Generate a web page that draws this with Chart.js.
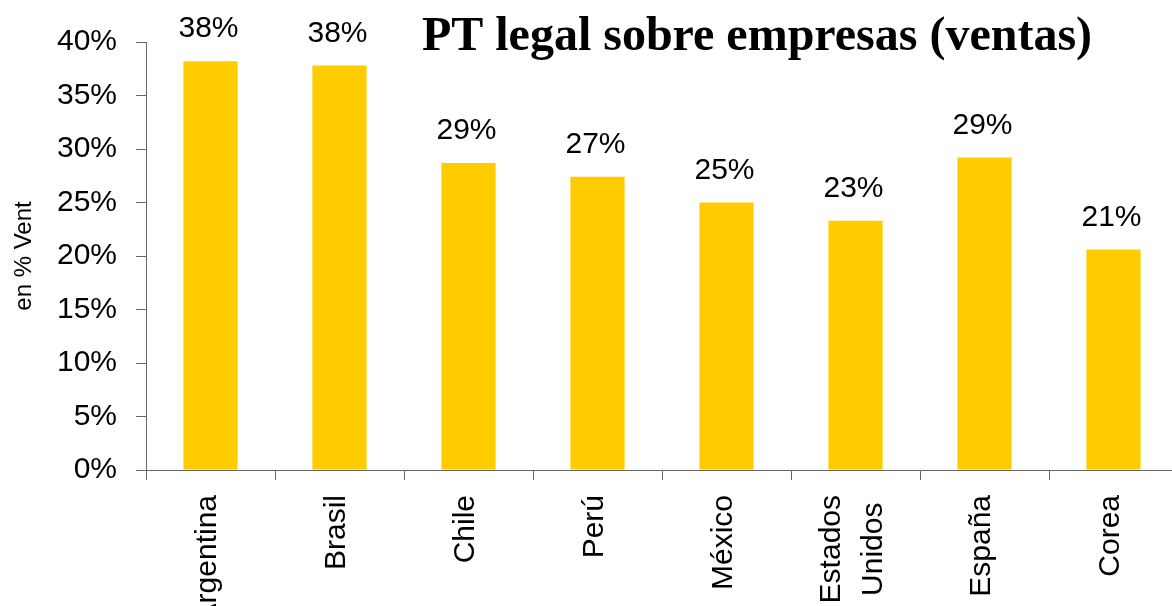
<!DOCTYPE html>
<html>
<head>
<meta charset="utf-8">
<script src="https://cdn.jsdelivr.net/npm/chart.js@4"></script>
<style>
  html, body { margin: 0; padding: 0; background: #fff; overflow: hidden; width: 1172px; height: 606px; }
  #wrap { position: absolute; left: 0; top: 0; width: 1180px; height: 640px; }
</style>
</head>
<body>
<div id="wrap"><canvas id="chart" width="1180" height="640"></canvas></div>
<script>
const SANS  = "'Liberation Sans', Arial, sans-serif";
const SERIF = "'Liberation Serif', 'Times New Roman', serif";
const AXIS  = '#666666';
const BAR   = '#FFCC00';

// ── Datos ────────────────────────────────────────────────────────────────────
const paises  = ['Argentina', 'Brasil', 'Chile', 'Perú', 'México', ['Estados', 'Unidos'], 'España', 'Corea'];
const presion = [38.2, 37.8, 28.7, 27.4, 25.0, 23.3, 29.2, 20.6];   // % de ventas
const yTicks  = { min: 0, max: 40, step: 5 };
const titulo  = 'PT legal sobre empresas (ventas)';
const yTitulo = 'en % Vent';

// ── Etiquetas de valor sobre las barras ──────────────────────────────────────
const valueLabels = {
  id: 'valueLabels',
  afterDatasetsDraw(chart) {
    const { ctx } = chart;
    const meta = chart.getDatasetMeta(0);
    ctx.save();
    ctx.font = `30px ${SANS}`;
    ctx.fillStyle = '#000';
    ctx.textAlign = 'center';
    ctx.textBaseline = 'alphabetic';
    meta.data.forEach((bar, i) => {
      ctx.fillText(Math.round(presion[i]) + '%', bar.x - 2, bar.y - 24);
    });
    ctx.restore();
  },
};

// ── Etiquetas del eje X verticales (multilínea centrada, como en el original) ─
const xLabels = {
  id: 'xLabels',
  afterDraw(chart) {
    const { ctx } = chart;
    const x = chart.scales.x;
    const top = x.top + 25;
    const lineH = 42;
    ctx.save();
    ctx.font = `30px ${SANS}`;
    ctx.fillStyle = '#000';
    ctx.textAlign = 'center';
    ctx.textBaseline = 'middle';
    paises.forEach((lab, i) => {
      const lines = Array.isArray(lab) ? lab : [lab];
      const w = Math.max(...lines.map(l => ctx.measureText(l).width));
      const px = x.getPixelForValue(i) - 3;
      ctx.save();
      ctx.translate(px, top);
      ctx.rotate(-Math.PI / 2);
      lines.forEach((l, j) => {
        ctx.fillText(l, -w / 2, (j - (lines.length - 1) / 2) * lineH);
      });
      ctx.restore();
    });
    ctx.restore();
  },
};

// ── Título dentro del área del gráfico ───────────────────────────────────────
const chartTitle = {
  id: 'chartTitle',
  afterDraw(chart) {
    const { ctx } = chart;
    ctx.save();
    ctx.font = `bold 48px ${SERIF}`;
    ctx.fillStyle = '#000';
    ctx.textAlign = 'center';
    ctx.textBaseline = 'alphabetic';
    ctx.fillText(titulo, 757, 50);
    ctx.restore();
  },
};

new Chart(document.getElementById('chart'), {
  type: 'bar',
  data: {
    labels: paises,
    datasets: [{
      data: presion,
      backgroundColor: BAR,
      borderWidth: 0,
      categoryPercentage: 1,
      barPercentage: 0.42,
    }],
  },
  options: {
    responsive: false,
    animation: false,
    devicePixelRatio: 1,
    layout: { padding: { top: 42, right: 2, left: 0, bottom: 0 } },
    plugins: {
      legend: { display: false },
      tooltip: { enabled: false },
    },
    scales: {
      x: {
        afterFit(s) { s.height = 170; s.paddingLeft = 0; s.paddingRight = 0; },
        grid: { offset: true, drawOnChartArea: false, tickLength: 10, color: AXIS },
        border: { color: AXIS, width: 1 },
        ticks: { display: false, autoSkip: false },
      },
      y: {
        afterFit(s) { s.width = 146; },
        min: yTicks.min,
        max: yTicks.max,
        grid: { drawOnChartArea: false, tickLength: 10, color: AXIS },
        border: { color: AXIS, width: 1 },
        ticks: {
          stepSize: yTicks.step,
          color: '#000',
          font: { family: SANS, size: 30 },
          padding: 19,
          callback: v => v + '%',
        },
        title: {
          display: true,
          text: yTitulo,
          color: '#000',
          font: { family: SANS, size: 24 },
          padding: { top: 10, bottom: 0 },
        },
      },
    },
  },
  plugins: [valueLabels, xLabels, chartTitle],
});
</script>
</body>
</html>
